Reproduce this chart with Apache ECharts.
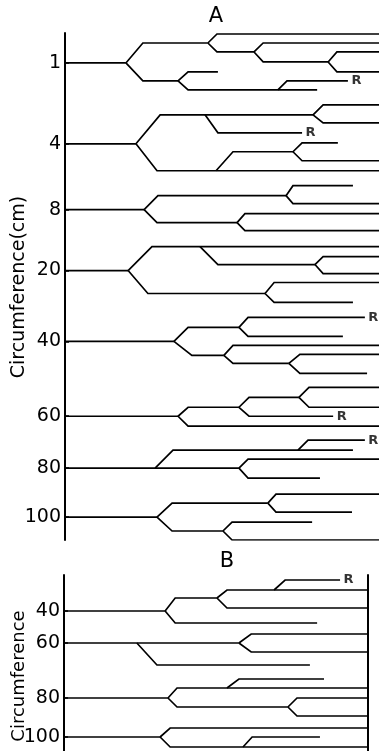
<!DOCTYPE html>
<html>
<head>
<meta charset="utf-8">
<script src="https://cdn.jsdelivr.net/npm/echarts@6/dist/echarts.min.js"></script>
<style>
html,body{margin:0;padding:0;background:#fff}
#main{width:379px;height:751px}
</style>
</head>
<body>
<div id="main"></div>
<script>
// tick positions on the lane axis and their circumference labels
var ticksA = [3.0, 11.1, 17.7, 23.8, 30.9, 38.4, 43.6, 48.5];
var labelsA = ['1', '4', '8', '20', '40', '60', '80', '100'];
var ticksB = [3.6, 6.8, 12.3, 16.2];
var labelsB = ['40', '60', '80', '100'];

// branch = [x start, y start, x after bend, y after bend, x end, tag]
var branchesA1 = [
	[0, 3.0, 0, 3.0, 19.4],
	[19.4, 3.0, 24.8, 1.0, 45.5],
	[45.5, 1.0, 48.4, 0.1, 100],
	[45.5, 1.0, 48.4, 1.9, 60.2],
	[60.2, 1.9, 63.1, 1.0, 100],
	[60.2, 1.9, 63.1, 2.9, 83.8],
	[83.8, 2.9, 86.6, 1.9, 100],
	[83.8, 2.9, 86.6, 3.9, 100],
	[19.4, 3.0, 24.8, 4.8, 36.0],
	[36.0, 4.8, 39.2, 3.9, 48.7],
	[36.0, 4.8, 39.2, 5.7, 80.3],
	[67.8, 5.7, 70.7, 4.8, 90.1, 'R']
];
var branchesA4 = [
	[0, 11.1, 0, 11.1, 22.6],
	[22.6, 11.1, 30.3, 8.2, 79.0],
	[79.0, 8.2, 82.2, 7.2, 100],
	[79.0, 8.2, 82.2, 9.0, 100],
	[44.6, 8.2, 48.7, 10.0, 75.5, 'R'],
	[22.6, 11.1, 29.3, 13.8, 100],
	[48.1, 13.8, 53.5, 11.9, 72.6],
	[72.6, 11.9, 75.5, 11.0, 86.9],
	[72.6, 11.9, 75.5, 12.8, 100]
];
var branchesA8 = [
	[0, 17.7, 0, 17.7, 25.2],
	[25.2, 17.7, 29.6, 16.3, 70.4],
	[70.4, 16.3, 72.6, 15.3, 91.7],
	[70.4, 16.3, 72.6, 17.1, 100],
	[25.2, 17.7, 29.3, 19.0, 54.8],
	[54.8, 19.0, 57.3, 18.1, 100],
	[54.8, 19.0, 57.3, 19.8, 100]
];
var branchesA20 = [
	[0, 23.8, 0, 23.8, 20.1],
	[20.1, 23.8, 27.7, 21.4, 100],
	[43.0, 21.4, 48.7, 23.2, 79.6],
	[79.6, 23.2, 82.2, 22.4, 100],
	[79.6, 23.2, 82.2, 24.1, 100],
	[20.1, 23.8, 26.4, 26.1, 63.7],
	[63.7, 26.1, 66.6, 25.0, 100],
	[63.7, 26.1, 66.6, 27.0, 91.7]
];
var branchesA40 = [
	[0, 30.9, 0, 30.9, 34.7],
	[34.7, 30.9, 39.2, 29.5, 55.4],
	[55.4, 29.5, 58.3, 28.5, 95.5, 'R'],
	[55.4, 29.5, 58.3, 30.4, 88.5],
	[34.7, 30.9, 40.4, 32.3, 50.6],
	[50.6, 32.3, 53.5, 31.3, 100],
	[50.6, 32.3, 53.5, 33.1, 71.3],
	[71.3, 33.1, 74.8, 32.2, 100],
	[71.3, 33.1, 74.8, 34.1, 96.2]
];
var branchesA60 = [
	[0, 38.4, 0, 38.4, 36.0],
	[36.0, 38.4, 39.2, 37.5, 55.4],
	[55.4, 37.5, 58.6, 36.5, 74.5],
	[74.5, 36.5, 77.7, 35.5, 100],
	[74.5, 36.5, 77.7, 37.5, 100],
	[55.4, 37.5, 58.6, 38.4, 85.4, 'R'],
	[36.0, 38.4, 39.2, 39.4, 100]
];
var branchesA80 = [
	[0, 43.6, 0, 43.6, 55.4],
	[28.7, 43.6, 34.4, 41.8, 91.7],
	[74.2, 41.8, 77.4, 40.8, 95.5, 'R'],
	[55.4, 43.6, 58.3, 42.7, 100],
	[55.4, 43.6, 58.3, 44.6, 81.2]
];
var branchesA100 = [
	[0, 48.5, 0, 48.5, 29.3],
	[29.3, 48.5, 34.1, 47.1, 64.6],
	[64.6, 47.1, 67.2, 46.2, 100],
	[64.6, 47.1, 67.2, 48.0, 91.4],
	[29.3, 48.5, 34.1, 49.9, 50.3],
	[50.3, 49.9, 53.2, 49.0, 78.7],
	[50.3, 49.9, 53.2, 50.8, 100]
];

var branchesB40 = [
	[0, 3.6, 0, 3.6, 32.2],
	[32.2, 3.6, 35.4, 2.3, 48.7],
	[48.7, 2.3, 51.9, 1.5, 96.8],
	[66.9, 1.5, 70.4, 0.5, 87.9, 'R'],
	[48.7, 2.3, 51.9, 3.3, 96.8],
	[32.2, 3.6, 35.4, 4.8, 80.6]
];
var branchesB60 = [
	[0, 6.8, 0, 6.8, 55.7],
	[23.2, 6.8, 29.6, 9.0, 78.3],
	[55.7, 6.8, 59.6, 5.9, 96.8],
	[55.7, 6.8, 59.6, 7.7, 96.8]
];
var branchesB80 = [
	[0, 12.3, 0, 12.3, 33.1],
	[33.1, 12.3, 36.0, 11.3, 96.8],
	[51.9, 11.3, 55.7, 10.4, 82.8],
	[33.1, 12.3, 36.0, 13.2, 71.3],
	[71.3, 13.2, 74.2, 12.3, 96.8],
	[71.3, 13.2, 74.2, 14.1, 96.8]
];
var branchesB100 = [
	[0, 16.2, 0, 16.2, 30.6],
	[30.6, 16.2, 33.8, 15.3, 96.8],
	[30.6, 16.2, 33.8, 17.2, 96.8],
	[57.0, 17.2, 59.9, 16.2, 81.5]
];

var panelA = [].concat(branchesA1, branchesA4, branchesA8, branchesA20,
	branchesA40, branchesA60, branchesA80, branchesA100);
var panelB = [].concat(branchesB40, branchesB60, branchesB80, branchesB100);

var FONT = 'DejaVu Sans';

function toLines(list) {
	return list.map(function (b) {
		return { coords: [[b[0], b[1]], [b[2], b[3]], [b[4], b[3]]] };
	});
}
function toTags(list) {
	return list.filter(function (b) { return b[5]; }).map(function (b) {
		return [b[4], b[3]];
	});
}
function nearestLabel(ticks, labels, v) {
	var best = 0;
	for (var i = 1; i < ticks.length; i++) {
		if (Math.abs(ticks[i] - v) < Math.abs(ticks[best] - v)) best = i;
	}
	return labels[best];
}
function leftAxis(grid, max, ticks, labels) {
	return {
		type: 'value', gridIndex: grid, min: 0, max: max, inverse: true,
		axisLine: { show: true, onZero: false, lineStyle: { color: '#000', width: 2 } },
		axisTick: { show: true, inside: true, length: 4, customValues: ticks, lineStyle: { color: '#000', width: 1.5 } },
		axisLabel: {
			customValues: ticks, margin: 4, color: '#000', fontSize: 19, fontFamily: FONT,
			formatter: function (v) { return nearestLabel(ticks, labels, v); }
		},
		splitLine: { show: false }
	};
}
function branchSeries(list, idx) {
	return {
		type: 'lines', coordinateSystem: 'cartesian2d', polyline: true,
		xAxisIndex: idx, yAxisIndex: idx, silent: true,
		lineStyle: { color: '#000', width: 1.7, opacity: 1 },
		data: toLines(list)
	};
}
function tagSeries(list, idx) {
	return {
		type: 'scatter', xAxisIndex: idx, yAxisIndex: idx, symbolSize: 1,
		itemStyle: { color: 'rgba(0,0,0,0)' }, silent: true,
		label: { show: true, position: 'right', distance: 3, formatter: 'R',
			color: '#000', fontSize: 13, fontWeight: 'bold', fontFamily: FONT },
		data: toTags(list)
	};
}

var chart = echarts.init(document.getElementById('main'));
var option = {
	animation: false,
	backgroundColor: '#fff',
	grid: [
		{ left: 65, top: 33, width: 314, height: 507 },
		{ left: 64, top: 575, width: 304, height: 176 }
	],
	xAxis: [
		{ type: 'value', gridIndex: 0, min: 0, max: 100, show: false },
		{ type: 'value', gridIndex: 1, min: 0, max: 96.8, show: false }
	],
	yAxis: [
		leftAxis(0, 50.8, ticksA, labelsA),
		leftAxis(1, 17.6, ticksB, labelsB),
		{
			type: 'value', gridIndex: 1, position: 'right', min: 0, max: 17.6, inverse: true,
			axisLine: { show: true, onZero: false, lineStyle: { color: '#000', width: 2 } },
			axisTick: { show: false }, axisLabel: { show: false }, splitLine: { show: false }
		}
	],
	graphic: [
		{ type: 'text', x: 216, y: 17, style: { text: 'A', font: '21px ' + FONT, fill: '#000', align: 'center', verticalAlign: 'middle' } },
		{ type: 'text', x: 227, y: 562, style: { text: 'B', font: '21px ' + FONT, fill: '#000', align: 'center', verticalAlign: 'middle' } },
		{ type: 'text', x: 19, y: 287, rotation: Math.PI / 2, style: { text: 'Circumference(cm)', font: '19px ' + FONT, fill: '#000', align: 'center', verticalAlign: 'middle' } },
		{ type: 'text', x: 19, y: 676, rotation: Math.PI / 2, style: { text: 'Circumference', font: '18px ' + FONT, fill: '#000', align: 'center', verticalAlign: 'middle' } }
	],
	series: [
		branchSeries(panelA, 0),
		tagSeries(panelA, 0),
		branchSeries(panelB, 1),
		tagSeries(panelB, 1)
	]
};
chart.setOption(option);
</script>
</body>
</html>
